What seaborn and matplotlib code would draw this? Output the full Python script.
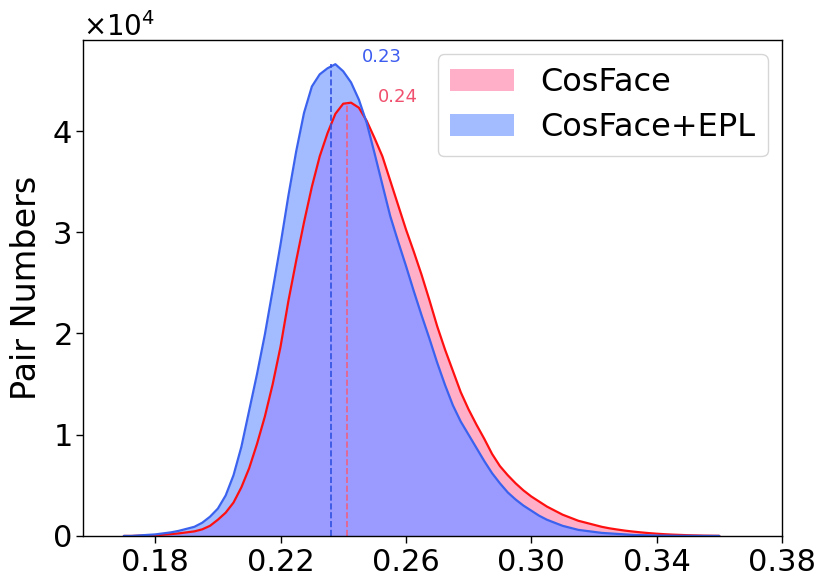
import numpy as np
import pandas as pd
import matplotlib
matplotlib.use("Agg")
import matplotlib.pyplot as plt
import seaborn as sns
from matplotlib.patches import Patch

# ---- data (pair counts, in units of 1e4, per bin of width 0.0025) ----
bin_centers = [round(0.170 + 0.0025 * i, 4) for i in range(77)]

cosface = [0.0, 0.0, 0.003, 0.005, 0.008, 0.012, 0.018, 0.025, 0.035, 0.045,
           0.065, 0.10, 0.16, 0.23, 0.33, 0.48, 0.67, 0.91, 1.18, 1.50,
           1.87, 2.32, 2.72, 3.10, 3.45, 3.75, 3.98, 4.17, 4.27, 4.28,
           4.23, 4.10, 3.93, 3.75, 3.51, 3.27, 3.03, 2.81, 2.58, 2.33,
           2.07, 1.84, 1.63, 1.42, 1.25, 1.10, 0.96, 0.81, 0.69, 0.60,
           0.52, 0.45, 0.39, 0.34, 0.29, 0.25, 0.21, 0.18, 0.15, 0.13,
           0.11, 0.09, 0.075, 0.063, 0.052, 0.043, 0.035, 0.028, 0.022, 0.017,
           0.013, 0.010, 0.007, 0.005, 0.003, 0.002, 0.001]

cosface_epl = [0.0, 0.0, 0.005, 0.01, 0.015, 0.025, 0.035, 0.05, 0.07, 0.09,
               0.13, 0.19, 0.27, 0.40, 0.60, 0.88, 1.24, 1.60, 1.99, 2.43,
               2.88, 3.36, 3.80, 4.18, 4.44, 4.56, 4.62, 4.66, 4.59, 4.48,
               4.31, 4.08, 3.78, 3.47, 3.16, 2.91, 2.67, 2.42, 2.18, 1.95,
               1.71, 1.49, 1.29, 1.13, 1.00, 0.87, 0.74, 0.62, 0.52, 0.43,
               0.36, 0.30, 0.25, 0.20, 0.16, 0.13, 0.10, 0.08, 0.06, 0.05,
               0.04, 0.03, 0.025, 0.02, 0.015, 0.01, 0.008, 0.006, 0.004, 0.003,
               0.002, 0.001, 0.001, 0.0005, 0.0, 0.0, 0.0]

peak_positions = [0.2413, 0.2361]   # CosFace, CosFace+EPL
peak_labels = ["0.24", "0.23"]
labels = ["CosFace", "CosFace+EPL"]
x_ticks = [0.18, 0.22, 0.26, 0.30, 0.34, 0.38]

# ---- plotting ----
sns.set_style("ticks")
plt.rcParams["font.family"] = ["DejaVu Sans"]
plt.rcParams["text.color"] = "black"
plt.rcParams["axes.labelcolor"] = "black"
plt.rcParams["xtick.color"] = "black"
plt.rcParams["ytick.color"] = "black"

fig = plt.figure(figsize=(8.31, 5.87), dpi=100)
ax = fig.add_axes([0.100, 0.087, 0.841, 0.845])

w = 0.0025
df = pd.DataFrame({
    "x": bin_centers,
    "a": np.array(cosface) * 1e4,
    "b": np.array(cosface_epl) * 1e4,
})
df["m"] = np.minimum(df["a"], df["b"])
brange = (bin_centers[0] - w / 2, bin_centers[-1] + w / 2)

pink = "#ffb0c8"
lblue = "#a2bcff"
purple = "#9a9aff"
red_line = "#ff1010"
blue_line = "#3a62ee"

kw = dict(binwidth=w, binrange=brange, element="poly", fill=True, alpha=1,
          linewidth=0, ax=ax)
sns.histplot(data=df, x="x", weights="a", color=pink, **kw)
sns.histplot(data=df, x="x", weights="b", color=lblue, **kw)
sns.histplot(data=df, x="x", weights="m", color=purple, **kw)

sns.lineplot(data=df, x="x", y="a", color=red_line, linewidth=1.6, ax=ax)
sns.lineplot(data=df, x="x", y="b", color=blue_line, linewidth=1.6, ax=ax)

# dashed peak markers
ax.vlines(peak_positions[0], 0, df["a"].max(), colors="#f06080", linestyles="--", linewidth=1.2)
ax.vlines(peak_positions[1], 0, df["b"].max(), colors="#3050e0", linestyles="--", linewidth=1.2)
ax.text(0.2524, 4.73e4, peak_labels[1], color="#3d5cf0", fontsize=13, ha="center", va="center")
ax.text(0.2575, 4.34e4, peak_labels[0], color="#f0506e", fontsize=13, ha="center", va="center")

ax.set_xlim(0.157, 0.38)
ax.set_ylim(0, 4.9e4)
ax.set_xticks(x_ticks)
ax.set_xticklabels([f"{t:.2f}" for t in x_ticks])
ax.set_yticks([0, 1e4, 2e4, 3e4, 4e4])
ax.ticklabel_format(axis="y", style="sci", scilimits=(0, 0), useMathText=True)
ax.yaxis.get_offset_text().set_fontsize(20)
ax.yaxis.get_offset_text().set_color("black")
ax.tick_params(axis="both", labelsize=22, length=5, width=1, colors="black")
ax.set_xlabel("")
ax.set_ylabel("Pair Numbers", fontsize=24, labelpad=6, color="black")
for s in ax.spines.values():
    s.set_color("black")
    s.set_linewidth(1.0)

handles = [Patch(facecolor=pink, edgecolor="none"), Patch(facecolor=lblue, edgecolor="none")]
leg = ax.legend(handles, labels, loc="upper right", fontsize=23, frameon=True,
                handlelength=2.0, handleheight=0.7, borderpad=0.4, labelspacing=0.45,
                handletextpad=0.8, borderaxespad=0.45)
for t in leg.get_texts():
    t.set_color("black")

fig.savefig("out.png", dpi=100)
